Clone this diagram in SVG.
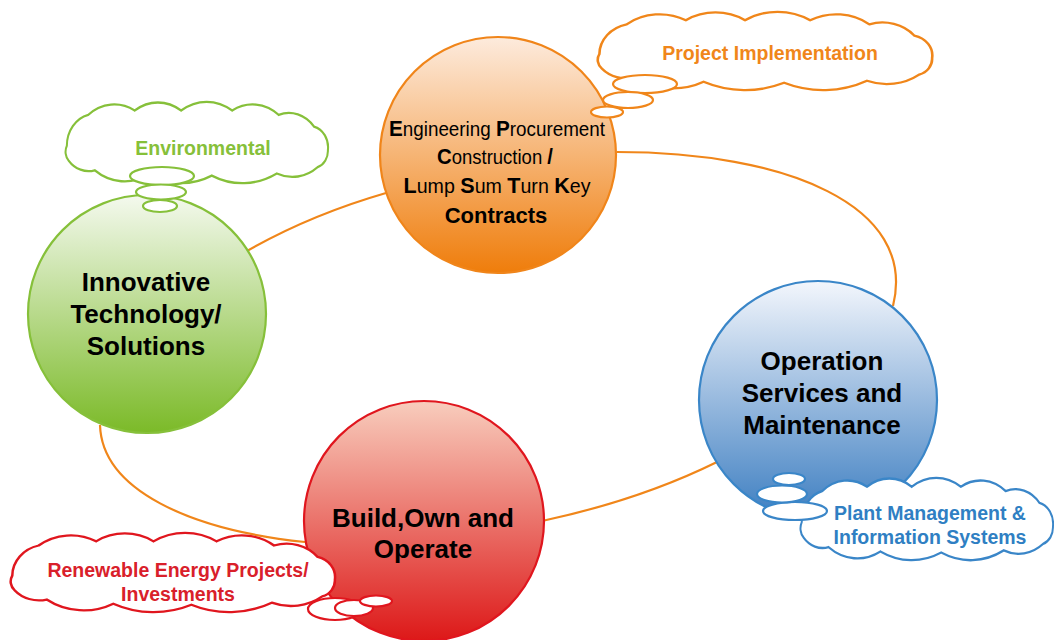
<svg xmlns="http://www.w3.org/2000/svg" width="1054" height="640" viewBox="0 0 1054 640">
<defs>
<linearGradient id="gO" x1="0" y1="0" x2="0" y2="1"><stop offset="0" stop-color="#FDEBDD"/><stop offset="1" stop-color="#EF7D0B"/></linearGradient>
<linearGradient id="gG" x1="0" y1="0" x2="0" y2="1"><stop offset="0" stop-color="#F4F9EE"/><stop offset="1" stop-color="#7BBA28"/></linearGradient>
<linearGradient id="gB" x1="0" y1="0" x2="0" y2="1"><stop offset="0" stop-color="#F3F6FC"/><stop offset="1" stop-color="#3D7EC1"/></linearGradient>
<linearGradient id="gR" x1="0" y1="0" x2="0" y2="1"><stop offset="0" stop-color="#F8CDBD"/><stop offset="1" stop-color="#DD1818"/></linearGradient>
<path id="cloud" d="M12,42 A30,30 0 0 1 35,13 A45,45 0 0 1 85,9 A45,45 0 0 1 135,9 A50,50 0 0 1 190,9 A45,45 0 0 1 240,13 A35,35 0 0 1 278,24 A20,20 0 0 1 293,46 A16,16 0 0 1 282,62 A45,45 0 0 1 238,68 A80,80 0 0 1 168,70 A80,80 0 0 1 100,69 A55,55 0 0 1 42,65 A28,28 0 0 1 14,56 A12,12 0 0 1 12,42 Z"/>
</defs>
<style>
.conn{fill:none;stroke:#F0861A;stroke-width:2.2}
.circ{stroke-width:2.2}
.cl{fill:#fff;stroke-width:2.2;vector-effect:non-scaling-stroke}
.bub{fill:#fff;stroke-width:2.2}
.t{font-family:"Liberation Sans",Arial,sans-serif;text-anchor:middle;stroke:none}
.big{font-size:26px;font-weight:bold;fill:#000}
.ct{font-size:19.5px;font-weight:bold}
.b{font-weight:bold;font-size:22px}
.r{font-weight:normal;font-size:20px}
</style>
<g id="connectors">
<path class="conn" d="M617,152 C785,152 918,205 893,306"/>
<path class="conn" d="M247,251 Q310,215 386,193"/>
<path class="conn" d="M100,425 C102,490 190,530 305,542"/>
<path class="conn" d="M542,521 Q640,500 717,462"/>
</g>
<g id="epc">
<circle class="circ" cx="498" cy="155" r="118" fill="url(#gO)" stroke="#F0851A"/>
</g>
<g id="innovative">
<circle class="circ" cx="147" cy="314" r="119" fill="url(#gG)" stroke="#86C03A"/>
</g>
<g id="operation">
<circle class="circ" cx="818" cy="400" r="119" fill="url(#gB)" stroke="#3A86C8"/>
</g>
<g id="boo">
<circle class="circ" cx="424" cy="521" r="120" fill="url(#gR)" stroke="#E0161E"/>
</g>
<g id="cloud-project" stroke="#F0861A">
<use href="#cloud" class="cl" transform="translate(585.2,11) scale(1.184,1.026)"/>
<ellipse class="bub" cx="645" cy="84" rx="32" ry="9"/>
<ellipse class="bub" cx="628" cy="100" rx="25" ry="8"/>
<ellipse class="bub" cx="607" cy="112" rx="16" ry="5.5"/>
<text class="t ct" x="770" y="60" fill="#F0861A">Project Implementation</text>
</g>
<g id="cloud-environmental" stroke="#86C03A">
<use href="#cloud" class="cl" transform="translate(55.7,101) scale(0.929,1.066)"/>
<ellipse class="bub" cx="162" cy="176" rx="32" ry="9"/>
<ellipse class="bub" cx="161" cy="192" rx="25" ry="7.5"/>
<ellipse class="bub" cx="160" cy="206" rx="17" ry="6"/>
<text class="t ct" x="203" y="155" fill="#86C03A">Environmental</text>
</g>
<g id="cloud-plant" stroke="#3A86C8">
<use href="#cloud" class="cl" transform="translate(791,477) scale(0.894,1.079)"/>
<ellipse class="bub" cx="795" cy="511" rx="32" ry="9"/>
<ellipse class="bub" cx="782" cy="494" rx="25" ry="8.5"/>
<ellipse class="bub" cx="789" cy="479" rx="16" ry="6"/>
<text class="t ct" x="930" y="520" fill="#2F7FC3">Plant Management &amp;</text>
<text class="t ct" x="930" y="544" fill="#2F7FC3">Information Systems</text>
</g>
<g id="cloud-renewable" stroke="#E0161E">
<use href="#cloud" class="cl" transform="translate(-1.5,532) scale(1.148,1.039)"/>
<ellipse class="bub" cx="335" cy="609" rx="27" ry="11"/>
<ellipse class="bub" cx="354" cy="608" rx="19" ry="8"/>
<ellipse class="bub" cx="376" cy="601" rx="16" ry="5.5"/>
<text class="t ct" x="178" y="577" fill="#D9202A">Renewable Energy Projects/</text>
<text class="t ct" x="178" y="601" fill="#D9202A">Investments</text>
</g>
<g id="labels">
<text class="t" x="497" y="136" textLength="216" lengthAdjust="spacingAndGlyphs"><tspan class="b">E</tspan><tspan class="r">ngineering </tspan><tspan class="b">P</tspan><tspan class="r">rocurement</tspan></text>
<text class="t" x="495" y="164" textLength="116" lengthAdjust="spacingAndGlyphs"><tspan class="b">C</tspan><tspan class="r">onstruction </tspan><tspan class="b">/</tspan></text>
<text class="t" x="497" y="193" textLength="187" lengthAdjust="spacingAndGlyphs"><tspan class="b">L</tspan><tspan class="r">ump </tspan><tspan class="b">S</tspan><tspan class="r">um </tspan><tspan class="b">T</tspan><tspan class="r">urn </tspan><tspan class="b">K</tspan><tspan class="r">ey</tspan></text>
<text class="t b" x="496" y="223">Contracts</text>
<text class="t big" x="146" y="291">Innovative</text>
<text class="t big" x="146" y="323">Technology/</text>
<text class="t big" x="146" y="355">Solutions</text>
<text class="t big" x="822" y="370">Operation</text>
<text class="t big" x="822" y="402">Services and</text>
<text class="t big" x="822" y="434">Maintenance</text>
<text class="t big" x="423" y="527">Build,Own and</text>
<text class="t big" x="423" y="558">Operate</text>
</g>
</svg>
